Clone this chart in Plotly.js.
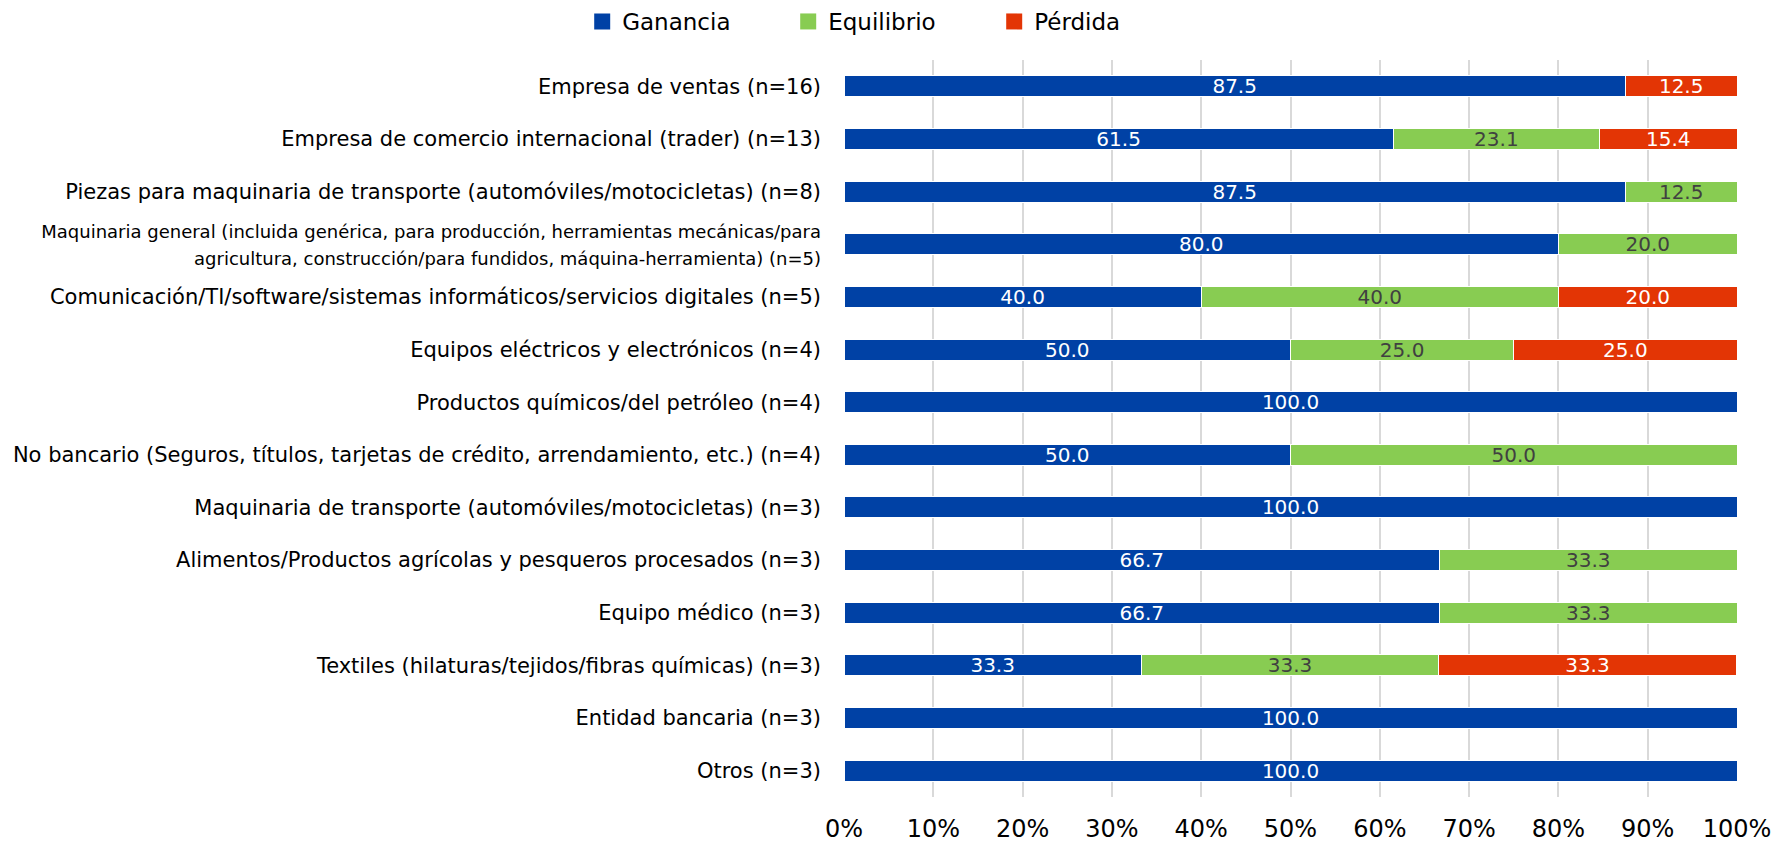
<!DOCTYPE html>
<html>
<head>
<meta charset="utf-8">
<script src="https://cdn.plot.ly/plotly-3.0.1.min.js"></script>
<style>html,body{margin:0;padding:0;background:#fff;}#chart{width:1775px;height:844px;}</style>
</head>
<body>
<div id="chart"></div>
<script>
const categories = [
  "Empresa de ventas (n=16)",
  "Empresa de comercio internacional (trader) (n=13)",
  "Piezas para maquinaria de transporte (automóviles/motocicletas) (n=8)",
  "Maquinaria general (incluida genérica, para producción, herramientas mecánicas/para<br>agricultura, construcción/para fundidos, máquina-herramienta) (n=5)",
  "Comunicación/TI/software/sistemas informáticos/servicios digitales (n=5)",
  "Equipos eléctricos y electrónicos (n=4)",
  "Productos químicos/del petróleo (n=4)",
  "No bancario (Seguros, títulos, tarjetas de crédito, arrendamiento, etc.) (n=4)",
  "Maquinaria de transporte (automóviles/motocicletas) (n=3)",
  "Alimentos/Productos agrícolas y pesqueros procesados (n=3)",
  "Equipo médico (n=3)",
  "Textiles (hilaturas/tejidos/fibras químicas) (n=3)",
  "Entidad bancaria (n=3)",
  "Otros (n=3)"
];
const ganancia   = [87.5, 61.5, 87.5, 80.0, 40.0, 50.0, 100.0, 50.0, 100.0, 66.7, 66.7, 33.3, 100.0, 100.0];
const equilibrio = [null, 23.1, 12.5, 20.0, 40.0, 25.0, null, 50.0, null, 33.3, 33.3, 33.3, null, null];
const perdida    = [12.5, 15.4, null, null, 20.0, 25.0, null, null, null, null, null, 33.3, null, null];
const seriesNames = ["Ganancia", "Equilibrio", "Pérdida"];
const xTickVals = [0, 10, 20, 30, 40, 50, 60, 70, 80, 90, 100];

const FONT = "DejaVu Sans, Verdana, sans-serif";
const colors = ["#0041A5", "#88CC52", "#E33505"];
const textColors = ["#FFFFFF", "#404040", "#FFFFFF"];
const series = [ganancia, equilibrio, perdida];

const traces = series.map((vals, i) => ({
  type: "bar",
  orientation: "h",
  name: seriesNames[i],
  legendgroup: seriesNames[i],
  showlegend: false,
  y: categories,
  x: vals,
  marker: {color: colors[i], line: {color: "#FFFFFF", width: 1}},
  text: vals.map(v => v == null ? "" : v.toFixed(1)),
  texttemplate: "%{text}",
  textposition: "inside",
  insidetextanchor: "middle",
  textangle: 0,
  constraintext: "none",
  textfont: {family: FONT, size: 20, color: textColors[i]},
  hoverinfo: "name+x"
}));

// legend-only entries with larger square swatches
seriesNames.forEach((n, i) => traces.push({
  type: "scatter", mode: "markers",
  name: n, legendgroup: n, showlegend: true,
  x: [null], y: [null],
  marker: {symbol: "square", size: 16, color: colors[i]},
  hoverinfo: "skip"
}));

const tickText = categories.map(c => c.indexOf("<br>") >= 0
  ? "<span style='font-size:18px'>" + c + "</span>" : c);

const layout = {
  width: 1775, height: 844,
  paper_bgcolor: "#FFFFFF", plot_bgcolor: "#FFFFFF",
  barmode: "stack",
  bargap: 0.6,
  margin: {l: 844, r: 38, t: 60, b: 47, pad: 0},
  font: {family: FONT, size: 21, color: "#000000"},
  showlegend: true,
  legend: {
    orientation: "h",
    xref: "container", yref: "container",
    x: 0.328, xanchor: "left",
    y: 1.0, yanchor: "top",
    font: {family: FONT, size: 23, color: "#000000"},
    entrywidth: 161, entrywidthmode: "pixels",
    itemwidth: 30,
    traceorder: "normal"
  },
  xaxis: {
    range: [0, 100],
    tickvals: xTickVals,
    ticktext: xTickVals.map(v => v + "%"),
    showgrid: true, gridcolor: "#D9D9D9", gridwidth: 2,
    zeroline: false, showline: false,
    ticks: "",
    ticklabelstandoff: 15,
    tickfont: {family: FONT, size: 24, color: "#000000"},
    fixedrange: true
  },
  yaxis: {
    type: "category",
    autorange: "reversed",
    tickvals: categories,
    ticktext: tickText,
    showgrid: false, zeroline: false, showline: false,
    ticks: "",
    ticklabelstandoff: 22,
    tickfont: {family: FONT, size: 21, color: "#000000"},
    fixedrange: true
  }
};

Plotly.newPlot("chart", traces, layout, {displayModeBar: false, staticPlot: true});
</script>
</body>
</html>
